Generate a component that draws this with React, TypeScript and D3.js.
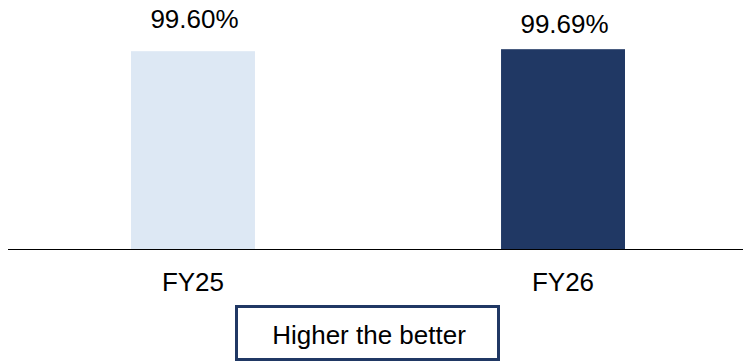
import React from "react";
import * as d3 from "d3";

const categories = ["FY25", "FY26"];
const values = [99.6, 99.69];
const valueLabels = ["99.60%", "99.69%"];
const legendText = "Higher the better";

const W = 743;
const H = 361;
const barColors = ["#dde8f4", "#203864"];
const labelDy = [-23, -16];

export default function App() {
  const x = d3
    .scaleBand<string>()
    .domain(categories)
    .range([8, 748])
    .paddingInner(0.665)
    .paddingOuter(0.3324);
  const y = d3.scaleLinear().domain([90.7, 100]).range([249, 42.3]);
  const font = "'Liberation Sans', Arial, sans-serif";

  return (
    <svg
      width={W}
      height={H}
      style={{ position: "absolute", left: 0, top: 0, background: "#fff" }}
      fontFamily={font}
    >
      {categories.map((c, i) => (
        <g key={c}>
          <rect
            x={x(c)!}
            y={y(values[i])}
            width={x.bandwidth()}
            height={y(y.domain()[0]) - y(values[i])}
            fill={barColors[i]}
          />
          <text
            x={x(c)! + x.bandwidth() / 2 + 1.5}
            y={y(values[i]) + labelDy[i]}
            textAnchor="middle"
            fontSize={26}
            fill="#000"
          >
            {valueLabels[i]}
          </text>
          <text
            x={x(c)! + x.bandwidth() / 2}
            y={y(y.domain()[0]) + 41.5}
            textAnchor="middle"
            fontSize={26}
            fill="#000"
          >
            {c}
          </text>
        </g>
      ))}
      <line x1={8} x2={W} y1={249.5} y2={249.5} stroke="#000" strokeWidth={1.2} />
      <rect
        x={236.5}
        y={306.5}
        width={262}
        height={53}
        fill="#fff"
        stroke="#203864"
        strokeWidth={3}
      />
      <text x={369} y={344} textAnchor="middle" fontSize={26} fill="#000">
        {legendText}
      </text>
    </svg>
  );
}
